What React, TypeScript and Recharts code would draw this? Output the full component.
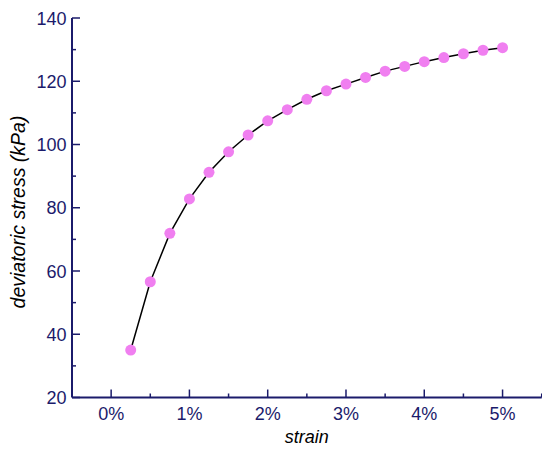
import { LineChart, Line, XAxis, YAxis } from 'recharts'

// strain in %, deviatoric stress in kPa
const strain = [0.25, 0.5, 0.75, 1, 1.25, 1.5, 1.75, 2, 2.25, 2.5, 2.75, 3, 3.25, 3.5, 3.75, 4, 4.25, 4.5, 4.75, 5]
const stress = [35.0, 56.6, 71.9, 82.8, 91.2, 97.7, 103.0, 107.5, 111.0, 114.3, 117.0, 119.1, 121.2, 123.2, 124.7, 126.2, 127.5, 128.7, 129.8, 130.6]

const xTicks = [0, 0.5, 1, 1.5, 2, 2.5, 3, 3.5, 4, 4.5, 5, 5.5]
const yTicks = [20, 30, 40, 50, 60, 70, 80, 90, 100, 110, 120, 130, 140]

const data = strain.map((s, i) => ({ strain: s, stress: stress[i] }))

const NAVY = '#1b1b6b'
const DOT = '#f07ff0'
const FONT = 'Arial, "Liberation Sans", sans-serif'

function XTick(props: any) {
  const { x, y, payload } = props
  const v = payload.value
  const major = Number.isInteger(v)
  return (
    <g>
      <line x1={x} x2={x} y1={y} y2={y - (major ? 8 : 4)} stroke={NAVY} strokeWidth={1.5} />
      {major && (
        <text x={x} y={y + 22.5} textAnchor="middle" fill={NAVY} fontSize={18} fontFamily={FONT}>
          {v}%
        </text>
      )}
    </g>
  )
}

function YTick(props: any) {
  const { x, y, payload } = props
  const v = payload.value
  const major = v % 20 === 0
  return (
    <g>
      <line x1={x} x2={x + (major ? 8 : 4)} y1={y} y2={y} stroke={NAVY} strokeWidth={1.5} />
      {major && (
        <text x={x - 5.5} y={y + 6.5} textAnchor="end" fill={NAVY} fontSize={18} fontFamily={FONT}>
          {v}
        </text>
      )}
    </g>
  )
}

export default function App() {
  return (
    <div style={{ margin: -8, width: 550, height: 454, background: '#fff' }}>
      <LineChart width={550} height={454} data={data} margin={{ top: 18, right: 8.3, bottom: 55.5, left: 71 }}>
        <XAxis
          type="number"
          dataKey="strain"
          domain={[-0.5, 5.5]}
          ticks={xTicks}
          interval={0}
          height={1}
          tickSize={0}
          tickMargin={0}
          tickLine={false}
          axisLine={{ stroke: NAVY, strokeWidth: 2 }}
          tick={<XTick />}
          label={{
            content: (p: any) => (
              <text
                x={p.viewBox.x + p.viewBox.width / 2}
                y={443}
                textAnchor="middle"
                fontStyle="italic"
                fontSize={18}
                fontFamily={FONT}
                fill="#000"
              >
                strain
              </text>
            ),
          }}
        />
        <YAxis
          type="number"
          domain={[20, 140]}
          ticks={yTicks}
          interval={0}
          width={1}
          tickSize={0}
          tickMargin={0}
          tickLine={false}
          axisLine={{ stroke: NAVY, strokeWidth: 2 }}
          tick={<YTick />}
          label={{
            content: () => (
              <text
                x={25}
                y={212}
                transform="rotate(-90 25 212)"
                textAnchor="middle"
                fontStyle="italic"
                fontSize={19.5}
                fontFamily={FONT}
                fill="#000"
              >
                deviatoric stress (kPa)
              </text>
            ),
          }}
        />
        <Line
          type="linear"
          dataKey="stress"
          stroke="#000"
          strokeWidth={1.5}
          dot={{ r: 5.5, fill: DOT, stroke: 'none' }}
          isAnimationActive={false}
        />
      </LineChart>
    </div>
  )
}
